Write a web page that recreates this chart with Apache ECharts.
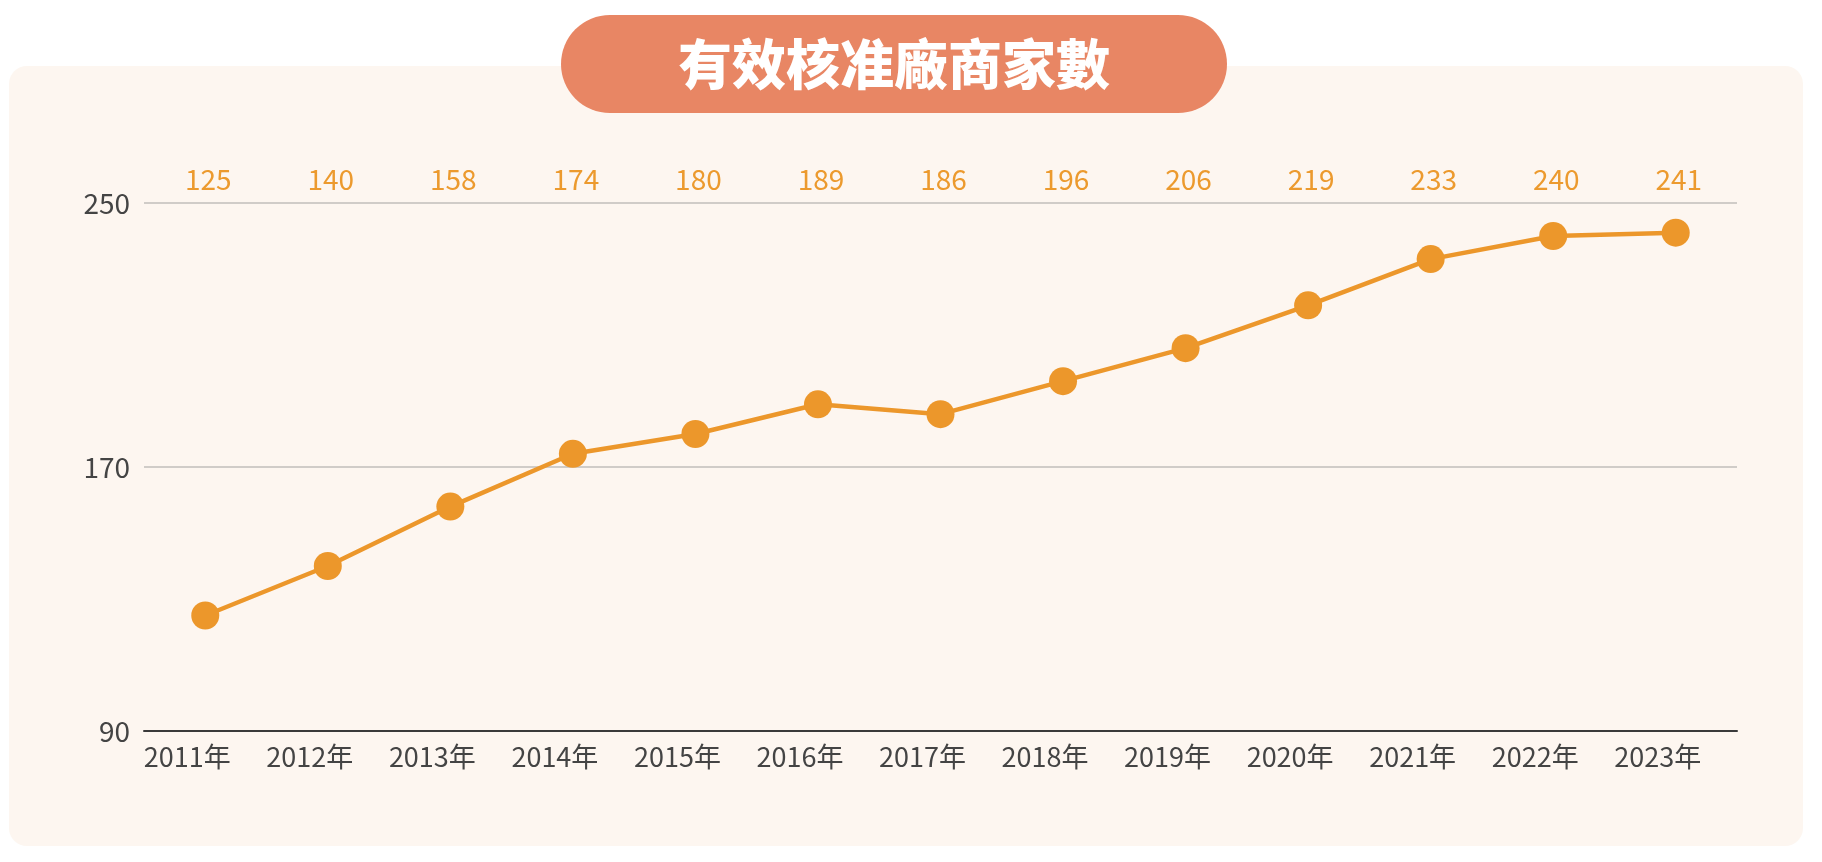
<!DOCTYPE html>
<html><head><meta charset="utf-8">
<script src="https://cdn.jsdelivr.net/npm/echarts@6/dist/echarts.min.js"></script>
<style>html,body{margin:0;padding:0;background:#fff}#c{width:1822px;height:862px}</style>
</head><body><div id="c"></div>
<script>
const categories = ['2011年','2012年','2013年','2014年','2015年','2016年','2017年','2018年','2019年','2020年','2021年','2022年','2023年'];
const values = [125,140,158,174,180,189,186,196,206,219,233,240,241];
const yTicks = [90,170,250];
const title = '有效核准廠商家數';
const FONT = '"Noto Sans CJK TC","Noto Sans",sans-serif';
const chart = echarts.init(document.getElementById('c'));
chart.setOption({
  backgroundColor:'#fff',
  textStyle:{fontFamily:FONT},
  graphic:[
    {type:'rect',shape:{x:9,y:66,width:1794,height:780,r:18},style:{fill:'#fdf6f0'},z:-10},
    {type:'rect',shape:{x:561,y:15,width:666,height:98,r:49},style:{fill:'#e88664'},z:10},
    {type:'text',x:894,y:64,style:{text:title,fill:'#fff',font:'900 54px '+FONT,textAlign:'center',textVerticalAlign:'middle'},z:11}
  ],
  grid:{left:144,right:85,top:203,bottom:131},
  xAxis:[
    {type:'category',data:categories,boundaryGap:true,
     axisLine:{lineStyle:{color:'#3a3a3a',width:2}},axisTick:{show:false},
     axisLabel:{color:'#444',fontSize:27,margin:12,fontFamily:FONT,padding:[0,36,0,0]}},
    {type:'category',position:'top',data:values.map(String),boundaryGap:true,
     axisLine:{show:false},axisTick:{show:false},
     axisLabel:{color:'#ec9a2e',fontSize:28,margin:10,fontFamily:FONT,padding:[0,0,0,6]}}
  ],
  yAxis:{type:'value',min:yTicks[0],max:yTicks[2],interval:80,
    axisLine:{show:false},axisTick:{show:false},
    axisLabel:{color:'#444',fontSize:28,margin:14,fontFamily:FONT},
    splitLine:{lineStyle:{color:'#d0ccc8',width:2}}},
  series:[{type:'line',data:values,symbol:'circle',symbolSize:28,
    lineStyle:{color:'#ec972b',width:4.5},itemStyle:{color:'#ec972b'},animation:false}]
});
</script></body></html>
